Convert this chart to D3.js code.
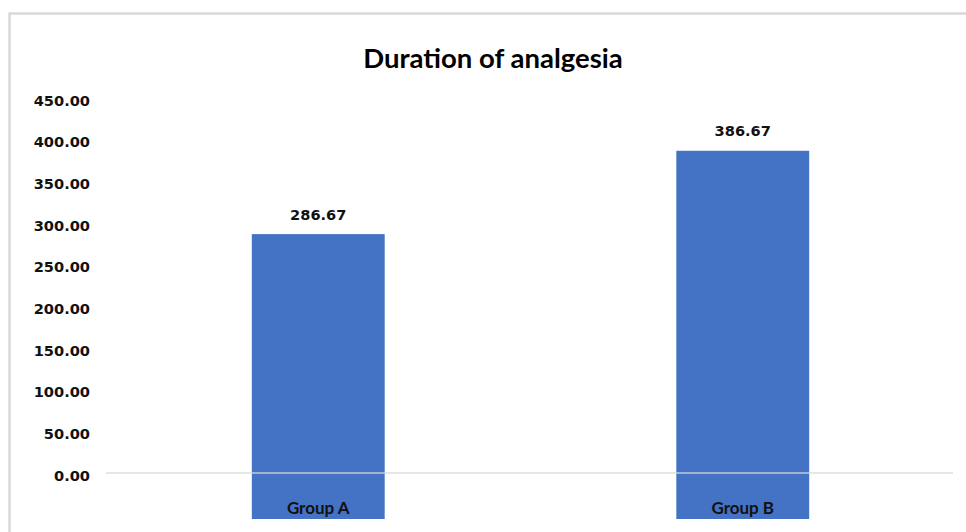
<!DOCTYPE html>
<html>
<head>
<meta charset="utf-8">
<script src="https://cdn.jsdelivr.net/npm/d3@7"></script>
<style>
  html, body { margin: 0; padding: 0; background: #ffffff; }
  svg { display: block; }
</style>
</head>
<body>
<svg id="chart" width="966" height="532"></svg>
<script>
// Chart data
const categories = ["Group A", "Group B"];
const values = [286.67, 386.67];
const tickValues = [0, 50, 100, 150, 200, 250, 300, 350, 400, 450];
const chartTitle = "Duration of analgesia";

const W = 966, H = 532;
const svg = d3.select("#chart");

// Chart-area frame
svg.append("rect")
  .attr("x", 9.5).attr("y", 13.5)
  .attr("width", 1000).attr("height", 600)
  .attr("fill", "#ffffff")
  .attr("stroke", "#d9d9d9")
  .attr("stroke-width", 2.5);

// Scales: the value axis runs slightly below zero so the columns
// continue under the baseline where the category names sit.
const plotLeft = 106, plotRight = 955;
const y = d3.scaleLinear().domain([0, 450]).range([473, 98]);
const yFloor = y.invert(519);

const x = d3.scaleBand()
  .domain(categories)
  .range([plotLeft, plotRight])
  .paddingInner(0.687)
  .paddingOuter(0.3435);

// Title
svg.append("text")
  .attr("x", 493).attr("y", 57)
  .attr("text-anchor", "middle")
  .attr("dominant-baseline", "central")
  .attr("font-family", "Lato, 'Open Sans', sans-serif")
  .attr("font-weight", "bold")
  .attr("font-size", 27.5)
  .attr("fill", "#000000")
  .text(chartTitle);

// Y axis tick labels
const yAxis = d3.axisLeft(y)
  .tickValues(tickValues)
  .tickSize(0)
  .tickPadding(0)
  .tickFormat(d3.format(".2f"));

const yG = svg.append("g")
  .attr("transform", `translate(90,0)`)
  .call(yAxis);
yG.select(".domain").remove();
yG.selectAll("text")
  .attr("font-family", "'DejaVu Sans', Verdana, sans-serif")
  .attr("font-weight", "bold")
  .attr("font-size", 14.6)
  .attr("fill", "#111111")
  .attr("dy", "0.35em")
  .attr("y", 2);

// Columns
svg.append("g").selectAll("rect")
  .data(values)
  .join("rect")
  .attr("x", (d, i) => x(categories[i]))
  .attr("width", x.bandwidth())
  .attr("y", d => y(d))
  .attr("height", d => y(yFloor) - y(d))
  .attr("fill", "#4472c4");

// Zero baseline, drawn across the columns
svg.append("line")
  .attr("x1", plotLeft).attr("x2", plotRight - 2)
  .attr("y1", y(0)).attr("y2", y(0))
  .attr("stroke", "#d9d9d9")
  .attr("stroke-opacity", 0.85)
  .attr("stroke-width", 1.5);

// Value labels above the columns
svg.append("g").selectAll("text")
  .data(values)
  .join("text")
  .attr("x", (d, i) => x(categories[i]) + x.bandwidth() / 2)
  .attr("y", d => y(d) - 20)
  .attr("text-anchor", "middle")
  .attr("dominant-baseline", "central")
  .attr("font-family", "'DejaVu Sans', Verdana, sans-serif")
  .attr("font-weight", "bold")
  .attr("font-size", 14.6)
  .attr("fill", "#111111")
  .text(d => d3.format(".2f")(d));

// Category labels inside the column feet
svg.append("g").selectAll("text")
  .data(categories)
  .join("text")
  .attr("x", d => x(d) + x.bandwidth() / 2)
  .attr("y", 507)
  .attr("text-anchor", "middle")
  .attr("dominant-baseline", "central")
  .attr("font-family", "Lato, 'Open Sans', sans-serif")
  .attr("font-weight", "bold")
  .attr("font-size", 17)
  .attr("fill", "#111111")
  .text(d => d);
</script>
</body>
</html>
